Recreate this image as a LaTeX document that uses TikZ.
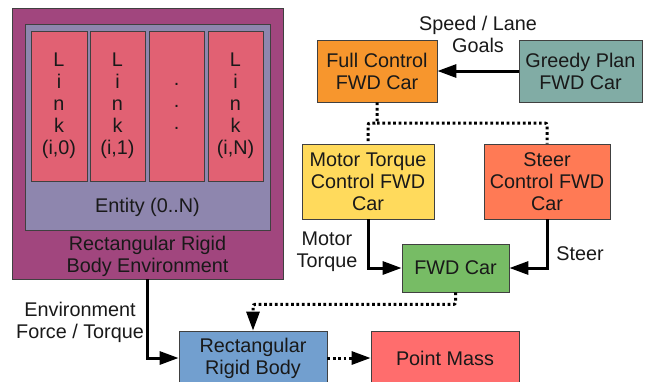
\documentclass[tikz,border=0pt]{standalone}
\usepackage{fontspec}
\setmainfont{Liberation Sans}
\usetikzlibrary{arrows.meta}

\definecolor{envcol}{HTML}{A1467E}
\definecolor{entcol}{HTML}{8E86AE}
\definecolor{linkcol}{HTML}{E16173}
\definecolor{fullcol}{HTML}{F7962D}
\definecolor{greedycol}{HTML}{81ACA5}
\definecolor{motorcol}{HTML}{FFDA5C}
\definecolor{steercol}{HTML}{FF7A55}
\definecolor{fwdcol}{HTML}{77BC65}
\definecolor{rigidcol}{HTML}{729FCF}
\definecolor{pointcol}{HTML}{FF6D6D}

\tikzset{
  box/.style={draw=black!75, line width=0.8pt, inner sep=0pt, align=center, text=black!90, font=\fontsize{19.8}{22}\selectfont},
  txt/.style={inner sep=0pt, align=center, text=black!90, font=\fontsize{19.8}{22}\selectfont},
  flow/.style={line width=3pt, -{Triangle[length=19pt,width=13pt]}},
  sig/.style={line width=3pt, dash pattern=on 2.7pt off 2.7pt, rounded corners=2pt},
  sigflow/.style={sig, -{Triangle[length=19pt,width=13pt]}},
}

\begin{document}
\begin{tikzpicture}[x=1pt,y=-1pt]
\useasboundingbox[fill=white] (0,0) rectangle (646,381);
\node[box, fill=envcol, minimum width=271, minimum height=271] (env) at (147.5,143.5) {};
\node[box, fill=entcol, minimum width=245, minimum height=206] (entity) at (147.5,127) {};
\node[box, fill=linkcol, minimum width=56, minimum height=150] (link0) at (59,106) {L\\i\\n\\k\\(i,0)};
\node[box, fill=linkcol, minimum width=55, minimum height=150] (link1) at (117.5,106) {L\\i\\n\\k\\(i,1)};
\node[box, fill=linkcol, minimum width=55, minimum height=150] (linkdots) at (176.5,106) {.\\.\\.};
\node[box, fill=linkcol, minimum width=55, minimum height=150] (linkN) at (235.5,106) {L\\i\\n\\k\\(i,N)};
\node[txt] (entlabel) at (147.5,207) {Entity (0..N)};
\node[txt] (envlabel) at (147.5,256) {Rectangular Rigid\\Body Environment};

\node[box, fill=fullcol, minimum width=120, minimum height=62] (full) at (377,71) {Full Control\\FWD Car};
\node[box, fill=greedycol, minimum width=123, minimum height=62] (greedy) at (580.5,71) {Greedy Plan\\FWD Car};
\node[box, fill=motorcol, minimum width=132, minimum height=75] (motor) at (368,181.5) {Motor Torque\\Control FWD\\Car};
\node[box, fill=steercol, minimum width=126, minimum height=75] (steer) at (547,181.5) {Steer\\Control FWD\\Car};
\node[box, fill=fwdcol, minimum width=107, minimum height=48] (fwd) at (455.5,268) {FWD Car};
\node[box, fill=rigidcol, minimum width=148, minimum height=54] (rigid) at (253,358) {Rectangular\\Rigid Body};
\node[box, fill=pointcol, minimum width=148, minimum height=54] (point) at (445,358) {Point Mass};

\node[txt] (goals) at (478,34) {Speed / Lane\\Goals};
\node[txt] (torquelabel) at (327,252) {Motor\\Torque};
\node[txt] (steerlabel) at (580,254) {Steer};
\node[txt] (forcelabel) at (80,322) {Environment\\Force / Torque};

\coordinate (split) at (377,123);
\draw[flow] (greedy.west) -- (full.east);
\draw[sig] (full.south) -- (split) -| (motor.north);
\draw[sig] (split) -| (steer.north);
\draw[flow] (motor.south) |- (fwd.west);
\draw[flow] (steer.south) |- (fwd.east);
\draw[sigflow] (fwd.south) -- ++(0,12) -| (rigid.north);
\draw[flow] (env.south) |- (rigid.west);
\draw[sigflow] (rigid.east) -- (point.west);
\end{tikzpicture}
\end{document}
